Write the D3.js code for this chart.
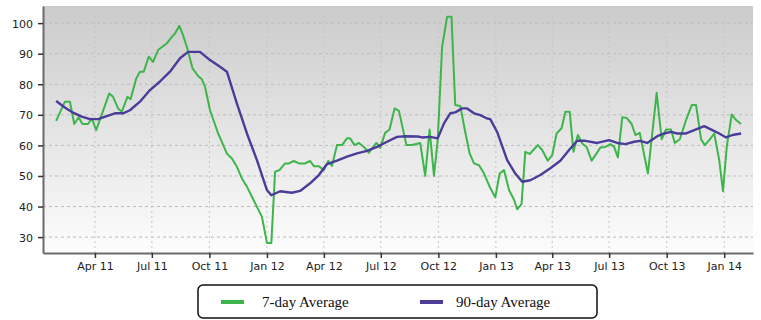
<!DOCTYPE html>
<html>
<head>
<meta charset="utf-8">
<script src="https://cdn.jsdelivr.net/npm/d3@7"></script>
<style>
  html, body { margin: 0; padding: 0; background: #fff; overflow: hidden; }
  svg { display: block; }
</style>
</head>
<body>
<div id="chartVis"></div>
<script>
  // weekly readings (date, value)
  var greenDates = ["2011-01-29","2011-02-12","2011-02-20","2011-02-27","2011-03-06","2011-03-12","2011-03-21","2011-03-27","2011-04-03","2011-04-24",
    "2011-04-30","2011-05-08","2011-05-14","2011-05-23","2011-05-28","2011-06-06","2011-06-12","2011-06-18","2011-06-26","2011-07-03",
    "2011-07-11","2011-07-25","2011-08-02","2011-08-07","2011-08-14","2011-08-19","2011-08-26","2011-09-04","2011-09-13","2011-09-19",
    "2011-09-24","2011-10-02","2011-10-15","2011-10-29","2011-11-06","2011-11-14","2011-11-22","2011-11-30","2011-12-08","2011-12-16",
    "2011-12-24","2012-01-01","2012-01-08","2012-01-14","2012-01-21","2012-01-30","2012-02-05","2012-02-13","2012-02-21","2012-03-02",
    "2012-03-10","2012-03-16","2012-03-24","2012-04-01","2012-04-08","2012-04-14","2012-04-22","2012-04-30","2012-05-08","2012-05-13",
    "2012-05-20","2012-05-27","2012-06-04","2012-06-12","2012-06-17","2012-06-24","2012-06-30","2012-07-08","2012-07-15","2012-07-23",
    "2012-07-30","2012-08-11","2012-08-20","2012-09-02","2012-09-10","2012-09-17","2012-09-24","2012-09-30","2012-10-07","2012-10-15",
    "2012-10-22","2012-10-28","2012-11-05","2012-11-13","2012-11-20","2012-11-27","2012-12-05","2012-12-13","2012-12-22","2012-12-31",
    "2013-01-07","2013-01-14","2013-01-22","2013-01-30","2013-02-04","2013-02-11","2013-02-17","2013-02-24","2013-03-09","2013-03-16",
    "2013-03-25","2013-04-01","2013-04-08","2013-04-16","2013-04-22","2013-04-29","2013-05-05","2013-05-12","2013-05-19","2013-05-26",
    "2013-06-03","2013-06-11","2013-06-17","2013-06-25","2013-07-03","2013-07-09","2013-07-15","2013-07-22","2013-07-29","2013-08-06",
    "2013-08-12","2013-08-19","2013-09-01","2013-09-15","2013-09-23","2013-09-30","2013-10-08","2013-10-14","2013-10-22","2013-11-01",
    "2013-11-10","2013-11-17","2013-11-25","2013-12-01","2013-12-08","2013-12-16","2013-12-24","2013-12-30","2014-01-05","2014-01-13",
    "2014-01-20","2014-01-28"];
  var greenValues = [68.0,74.3,74.3,67.0,69.2,67.0,67.0,68.8,65.0,77.0,
    75.9,72.1,71.0,75.9,75.1,81.9,84.1,84.1,89.0,87.3,
    91.2,93.4,95.5,96.6,99.1,96.6,92.2,85.2,82.7,81.6,
    79.2,71.5,63.9,57.3,55.7,53.0,49.2,46.5,43.2,39.9,
    36.6,28.1,28.1,51.4,51.9,54.1,54.1,54.9,54.1,54.1,
    54.9,53.2,53.2,51.9,54.9,53.3,60.1,60.1,62.3,62.3,
    60.1,60.8,59.5,57.6,59.0,60.8,59.2,64.1,65.2,72.1,
    71.3,60.1,60.1,60.8,50.0,65.2,50.0,61.7,92.2,102.1,
    102.1,73.2,72.9,64.4,57.4,54.1,53.5,50.8,46.5,43.0,
    50.8,51.9,45.4,42.2,39.1,40.8,57.9,57.2,60.1,58.5,
    55.0,56.8,63.9,65.6,71.0,71.0,57.9,63.4,60.6,59.5,
    55.0,57.4,59.3,59.5,60.4,59.5,56.1,69.2,69.0,67.0,
    63.4,64.1,50.8,77.2,62.0,65.2,65.2,60.8,62.0,68.3,
    73.2,73.2,62.0,60.1,61.7,63.9,55.2,45.0,59.5,70.1,
    68.3,67.0];

  var blueDates = ["2011-01-29","2011-02-12","2011-02-25","2011-03-11","2011-03-24","2011-04-06","2011-04-20","2011-05-03","2011-05-16","2011-05-27",
    "2011-06-12","2011-06-28","2011-07-14","2011-07-30","2011-08-15","2011-08-28","2011-09-16","2011-10-02","2011-10-18","2011-10-29",
    "2011-11-14","2011-11-30","2011-12-16","2012-01-01","2012-01-08","2012-01-22","2012-02-10","2012-02-23","2012-03-10","2012-03-24",
    "2012-04-06","2012-04-22","2012-05-08","2012-05-24","2012-06-09","2012-06-25","2012-07-11","2012-07-27","2012-08-09","2012-08-29",
    "2012-09-05","2012-09-18","2012-09-30","2012-10-10","2012-10-20","2012-10-28","2012-11-08","2012-11-16","2012-11-27","2012-12-07",
    "2012-12-18","2012-12-23","2013-01-03","2013-01-19","2013-02-01","2013-02-12","2013-02-25","2013-03-13","2013-03-29","2013-04-14",
    "2013-04-28","2013-05-11","2013-05-24","2013-06-12","2013-07-01","2013-07-14","2013-07-27","2013-08-10","2013-08-19","2013-08-31",
    "2013-09-16","2013-09-27","2013-10-08","2013-10-18","2013-11-01","2013-11-14","2013-11-30","2013-12-13","2013-12-24","2014-01-04",
    "2014-01-14","2014-01-28"];
  var blueValues = [74.5,72.4,70.7,69.4,68.6,68.6,69.6,70.5,70.5,71.5,
    74.3,78.1,80.9,84.1,88.5,90.6,90.6,87.9,85.7,84.1,
    73.7,63.9,55.2,45.4,43.7,45.0,44.5,45.1,47.6,50.3,
    53.9,55.0,56.3,57.4,58.2,59.5,61.2,62.8,63.0,62.9,
    62.6,62.8,62.3,67.2,70.5,70.8,72.1,72.1,70.5,69.9,
    68.8,68.6,64.4,55.2,50.8,48.1,48.6,50.3,52.5,55.0,
    58.5,61.5,61.5,60.8,61.7,60.8,60.4,61.2,61.5,60.8,
    63.0,63.9,64.4,63.9,63.9,65.0,66.3,65.0,63.9,62.6,
    63.4,63.9];

  var yTicks = [30, 40, 50, 60, 70, 80, 90, 100];
  var seriesNames = ["7-day Average", "90-day Average"];
  var seriesColors = ["#3db54a", "#4a3d9a"];

  var width = 761;
  var height = 320;
  var margin = { top: 6, right: 8, bottom: 67, left: 43 };
  var innerWidth = width - margin.left - margin.right;
  var innerHeight = height - margin.top - margin.bottom;

  var parse = d3.timeParse("%Y-%m-%d");
  var green = greenDates.map(function (d, i) { return { date: parse(d), value: greenValues[i] }; });
  var blue = blueDates.map(function (d, i) { return { date: parse(d), value: blueValues[i] }; });

  var svg = d3.select("#chartVis")
    .append("svg")
    .attr("width", width)
    .attr("height", height)
    .style("font-family", "'DejaVu Sans', sans-serif");

  var defs = svg.append("defs");
  var grad = defs.append("linearGradient")
    .attr("id", "bg")
    .attr("x1", 0).attr("y1", 0).attr("x2", 0).attr("y2", 1);
  grad.append("stop").attr("offset", "0%").attr("stop-color", "#cbcbcb");
  grad.append("stop").attr("offset", "100%").attr("stop-color", "#fdfdfd");

  var g = svg.append("g")
    .attr("transform", "translate(" + margin.left + "," + margin.top + ")");

  var x = d3.scaleTime()
    .domain([parse("2011-01-08"), parse("2014-02-16")])
    .range([0, innerWidth]);
  var y = d3.scaleLinear()
    .domain([24.8, 105.6])
    .range([innerHeight, 0]);

  var xTicks = d3.timeMonth.every(3).range(parse("2011-04-01"), parse("2014-01-02"));

  // background
  g.append("rect")
    .attr("width", innerWidth)
    .attr("height", innerHeight)
    .attr("fill", "url(#bg)");

  // grid
  g.append("g").selectAll("line").data(yTicks).enter()
    .append("line")
    .attr("x1", 0).attr("x2", innerWidth)
    .attr("y1", function (d) { return y(d); })
    .attr("y2", function (d) { return y(d); })
    .attr("stroke", "#bdbdbd")
    .attr("stroke-dasharray", "3,3");
  g.append("g").selectAll("line").data(xTicks).enter()
    .append("line")
    .attr("y1", 0).attr("y2", innerHeight)
    .attr("x1", function (d) { return x(d); })
    .attr("x2", function (d) { return x(d); })
    .attr("stroke", "#c4c4c4")
    .attr("stroke-dasharray", "2,3");

  // axes
  var yAxis = g.append("g")
    .call(d3.axisLeft(y).tickValues(yTicks).tickSize(5).tickSizeOuter(0).tickPadding(5));
  var xAxis = g.append("g")
    .attr("transform", "translate(0," + innerHeight + ")")
    .call(d3.axisBottom(x).tickValues(xTicks).tickSize(5).tickSizeOuter(0).tickPadding(4).tickFormat(d3.timeFormat("%b %y")));

  [xAxis, yAxis].forEach(function (ax) {
    ax.select(".domain").attr("stroke", "#6a6a6a").attr("stroke-width", 2);
    ax.selectAll(".tick line").attr("stroke", "#333").attr("stroke-width", 1.5);
    ax.selectAll(".tick text")
      .attr("fill", "#222")
      .attr("font-size", 11)
      .attr("font-family", "'DejaVu Sans', sans-serif");
  });
  // put labels at their baselines instead of using dy offsets
  xAxis.selectAll(".tick text").attr("dy", null).attr("y", 17);
  yAxis.selectAll(".tick text").attr("dy", null).attr("y", 4);

  // lines
  var line = d3.line()
    .x(function (d) { return x(d.date); })
    .y(function (d) { return y(d.value); });

  g.append("path")
    .datum(green)
    .attr("d", line)
    .attr("fill", "none")
    .attr("stroke", seriesColors[0])
    .attr("stroke-width", 2)
    .attr("stroke-linejoin", "round");

  g.append("path")
    .datum(blue)
    .attr("d", line)
    .attr("fill", "none")
    .attr("stroke", seriesColors[1])
    .attr("stroke-width", 2.4)
    .attr("stroke-linejoin", "round");

  // legend
  var legend = svg.append("g");
  legend.append("rect")
    .attr("x", 198).attr("y", 285)
    .attr("width", 399).attr("height", 33)
    .attr("rx", 5)
    .attr("fill", "#fff")
    .attr("stroke", "#111")
    .attr("stroke-width", 1.5);

  var legendX = [221, 420];
  seriesNames.forEach(function (name, i) {
    legend.append("rect")
      .attr("x", legendX[i]).attr("y", 300)
      .attr("width", 23).attr("height", 4)
      .attr("fill", seriesColors[i]);
    legend.append("text")
      .attr("x", legendX[i] + 41 - (i === 1 ? 5 : 0))
      .attr("y", 307)
      .text(name)
      .attr("font-family", "'Liberation Serif', serif")
      .attr("font-size", 15)
      .attr("fill", "#111");
  });
</script>
</body>
</html>
